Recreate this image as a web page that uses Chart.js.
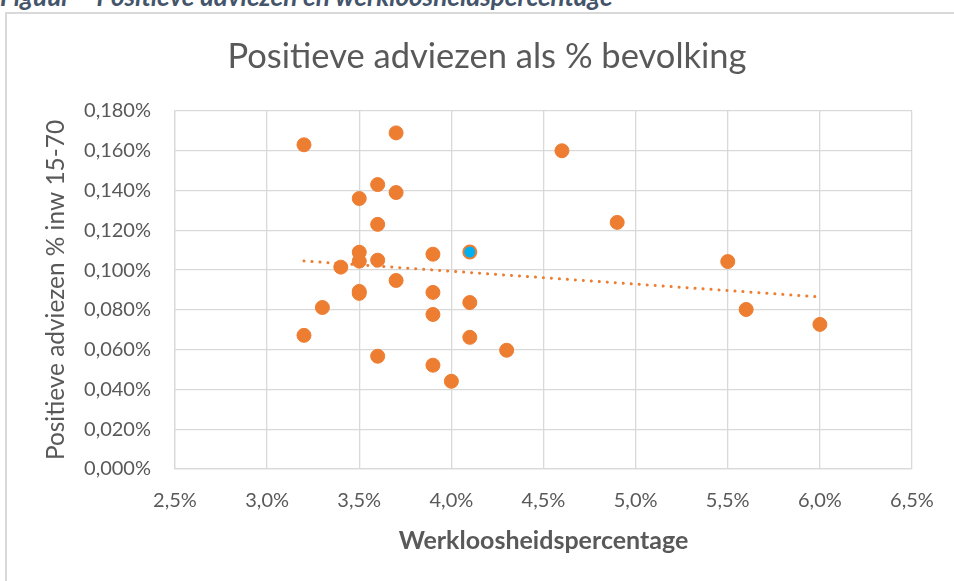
<!DOCTYPE html>
<html>
<head>
<meta charset="utf-8">
<script src="https://cdn.jsdelivr.net/npm/chart.js@4.4.1/dist/chart.umd.min.js"></script>
<style>
  body { margin: 0; background: #fff; overflow: hidden; }
  #wrap { position: relative; width: 954px; height: 581px; overflow: hidden; }
  #kader { position: absolute; left: 5px; top: 12px; width: 1200px; height: 1200px; border: 2px solid #d9d9d9; }
  #figuur { position: absolute; left: 0; top: -17px; font: italic bold 26px Lato; line-height: 26px; color: #44546a; white-space: nowrap; }
  canvas { position: absolute; left: 0; top: 0; }
</style>
</head>
<body>
<div id="wrap">
  <div id="kader"></div>
  <div id="figuur">Figuur – Positieve adviezen en werkloosheidspercentage</div>
  <canvas id="grafiek" width="954" height="581"></canvas>
</div>
<script>
// werkloosheid (%) en positieve adviezen (% inw 15-70)
let werkloosheid = [3.2, 3.7, 4.6, 3.6, 3.7, 3.5, 4.9, 3.6, 3.5, 3.9, 3.5, 3.6, 5.5, 3.4, 3.7,
                    3.5, 3.5, 3.9, 4.1, 3.3, 5.6, 3.9, 6.0, 3.2, 4.1, 4.3, 3.6, 3.9, 4.0];
let adviezen = [0.163, 0.169, 0.160, 0.143, 0.139, 0.136, 0.124, 0.123, 0.109, 0.108, 0.1045, 0.105, 0.1043, 0.1015, 0.0948,
                0.0893, 0.0883, 0.0888, 0.0837, 0.0812, 0.0802, 0.0777, 0.0727, 0.0672, 0.0662, 0.0597, 0.0567, 0.0522, 0.0441];

// het blauwe punt
let uitgelichtX = [4.1];
let uitgelichtY = [0.1091];

// trendlijn (begin en eind)
let trendX = [3.2, 6.0];
let trendY = [0.1046, 0.0865];

let xMin = 2.5, xMax = 6.5, xStap = 0.5;
let yMin = 0, yMax = 0.18, yStap = 0.02;

let oranje = '#ed7d31';
let blauw = '#00b0f0';
let grijs = '#595959';
let raster = '#d9d9d9';

function punten(xs, ys) {
    let lijst = [];
    for (let i = 0; i < xs.length; i++) {
        lijst.push({ x: xs[i], y: ys[i] });
    }
    return lijst;
}

const ctx = document.getElementById('grafiek').getContext('2d');

// links 62 px padding zodat de titel boven het kader gecentreerd staat
const grafiek = new Chart(ctx, {
    type: 'scatter',
    data: {
        datasets: [
            {
                label: 'Trend',
                type: 'line',
                data: punten(trendX, trendY),
                borderColor: oranje,
                borderWidth: 3,
                borderDash: [0.1, 7.9],
                borderCapStyle: 'round',
                pointRadius: 0,
                fill: false
            },
            {
                label: 'Uitgelicht',
                data: punten(uitgelichtX, uitgelichtY),
                backgroundColor: blauw,
                borderColor: oranje,
                borderWidth: 2,
                pointRadius: 6.5
            },
            {
                label: 'Positieve adviezen',
                data: punten(werkloosheid, adviezen),
                backgroundColor: oranje,
                borderColor: oranje,
                borderWidth: 1,
                pointRadius: 7
            }
        ]
    },
    options: {
        responsive: false,
        animation: false,
        layout: { padding: { left: 62, right: 42, top: 0, bottom: 0 } },
        plugins: {
            legend: { display: false },
            tooltip: { enabled: false },
            title: {
                display: true,
                text: 'Positieve adviezen als % bevolking',
                color: grijs,
                font: { family: 'Lato', size: 34.5, weight: 'normal' },
                padding: { top: 36, bottom: 33.6 }
            }
        },
        scales: {
            x: {
                type: 'linear',
                min: xMin,
                max: xMax,
                grid: { color: raster, lineWidth: 1.3, drawTicks: false },
                border: { color: raster, width: 1.3 },
                ticks: {
                    stepSize: xStap,
                    color: grijs,
                    padding: 20,
                    font: { family: 'Lato', size: 20 },
                    callback: function(value) {
                        return value.toFixed(1).replace('.', ',') + '%';
                    }
                },
                title: {
                    display: true,
                    text: 'Werkloosheidspercentage',
                    color: grijs,
                    font: { family: 'Lato', size: 25, weight: 'bold' },
                    padding: { top: 0, bottom: 25 }
                },
                afterFit: function(scale) { scale.height = 112; }
            },
            y: {
                type: 'linear',
                min: yMin,
                max: yMax,
                grid: { color: raster, lineWidth: 1.3, drawTicks: false },
                border: { color: raster, width: 1.3 },
                ticks: {
                    stepSize: yStap,
                    color: grijs,
                    padding: 24,
                    font: { family: 'Lato', size: 20 },
                    callback: function(value) {
                        return value.toFixed(3).replace('.', ',') + '%';
                    }
                },
                title: {
                    display: true,
                    text: 'Positieve adviezen % inw 15-70',
                    color: grijs,
                    font: { family: 'Lato', size: 24.4, weight: 'normal' },
                    padding: { top: -20, bottom: 0 }
                },
                afterFit: function(scale) { scale.width = 113; }
            }
        }
    }
});
</script>
</body>
</html>
